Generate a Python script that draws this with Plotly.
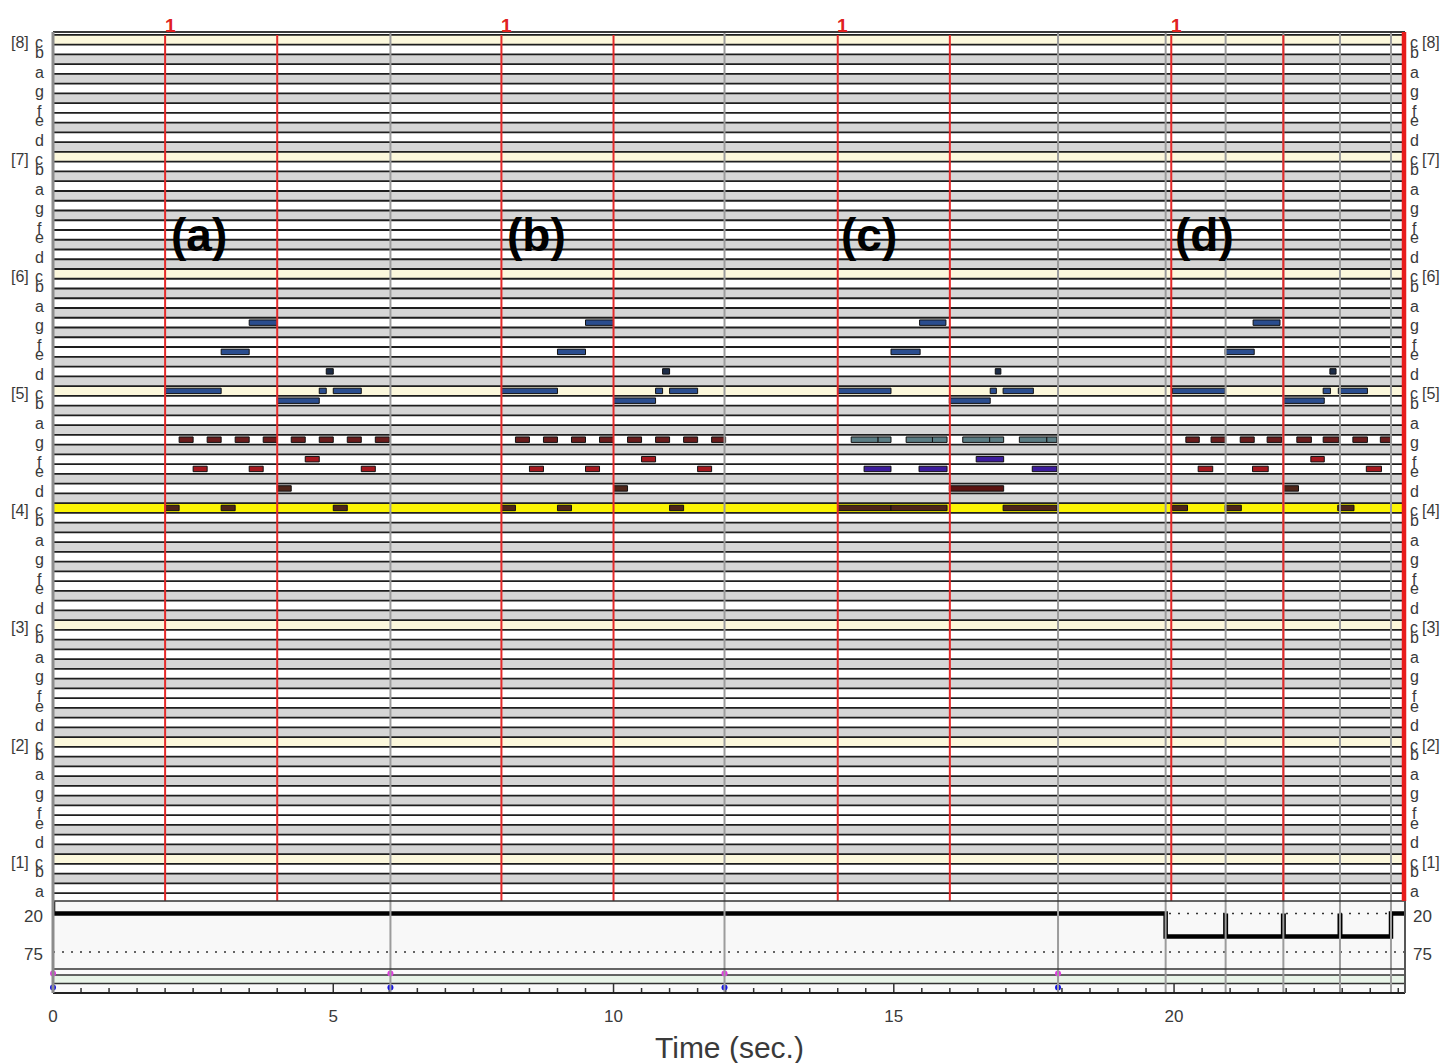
import plotly.graph_objects as go

# ---------------- data ----------------
time_max = 24.12
pitch_low, pitch_high = 21, 108          # a0 .. c8

tick_vals = [0, 5, 10, 15, 20]
tick_text = ["0", "5", "10", "15", "20"]

measure_line_t = [2.0, 4.0, 8.0, 10.0, 14.0, 16.0, 19.95, 21.95]
measure_label_t = [2.0, 8.0, 14.0, 19.95]
measure_label_text = ["1", "1", "1", "1"]
beat_line_t = [6.02, 11.98, 17.93, 19.85, 20.92, 21.95, 22.96, 23.87]
marker_t = [0.0, 6.02, 11.98, 17.93]

panel_text = ["(a)", "(b)", "(c)", "(d)"]
panel_t = [2.61, 8.63, 14.56, 20.55]
panel_pitch = 88

tempo_t = [0.0, 0.0, 19.85, 19.85, 23.87, 23.87, 24.12]
tempo_v = [0, 20, 20, 53, 53, 20, 20]
tempo_beat_t = [20.92, 21.95, 22.96]
tempo_beat_low, tempo_beat_high = 53, 20
tempo_ref_vals = [20, 75]

# notes: B=blue, K=dark, G=g-line dark red, R=red, N=brown,
#        T=teal, P=purple, M=maroon
a_pitch = [72, 76, 79, 71, 72, 74, 72,
           67, 67, 67, 67, 67, 67, 67, 67,
           65, 64, 64, 64, 62, 60, 60, 60]
a_start = [2.0, 3.0, 3.5, 4.0, 4.75, 4.875, 5.0,
           2.25, 2.75, 3.25, 3.75, 4.25, 4.75, 5.25, 5.75,
           4.5, 2.5, 3.5, 5.5, 4.0, 2.0, 3.0, 5.0]
a_end = [3.0, 3.5, 4.0, 4.75, 4.875, 5.0, 5.5,
         2.5, 3.0, 3.5, 4.0, 4.5, 5.0, 5.5, 6.0,
         4.75, 2.75, 3.75, 5.75, 4.25, 2.25, 3.25, 5.25]
a_kind = ["B", "B", "B", "B", "B", "K", "B",
          "G", "G", "G", "G", "G", "G", "G", "G",
          "R", "R", "R", "R", "N", "N", "N", "N"]

b_pitch = [72, 76, 79, 71, 72, 74, 72,
           67, 67, 67, 67, 67, 67, 67, 67,
           65, 64, 64, 64, 62, 60, 60, 60]
b_start = [8.0, 9.0, 9.5, 10.0, 10.75, 10.875, 11.0,
           8.25, 8.75, 9.25, 9.75, 10.25, 10.75, 11.25, 11.75,
           10.5, 8.5, 9.5, 11.5, 10.0, 8.0, 9.0, 11.0]
b_end = [9.0, 9.5, 10.0, 10.75, 10.875, 11.0, 11.5,
         8.5, 9.0, 9.5, 10.0, 10.5, 11.0, 11.5, 12.0,
         10.75, 8.75, 9.75, 11.75, 10.25, 8.25, 9.25, 11.25]
b_kind = ["B", "B", "B", "B", "B", "K", "B",
          "G", "G", "G", "G", "G", "G", "G", "G",
          "R", "R", "R", "R", "N", "N", "N", "N"]

c_pitch = [72, 76, 79, 71, 72, 74, 72,
           67, 67, 67, 67, 67, 67, 67, 67,
           65, 64, 64, 64, 62, 60, 60, 60]
c_start = [14.0, 14.95, 15.46, 15.99, 16.72, 16.81, 16.95,
           14.24, 14.72, 15.22, 15.69, 16.23, 16.71, 17.24, 17.73,
           16.47, 14.47, 15.45, 17.47, 15.99, 14.0, 14.95, 16.95]
c_end = [14.95, 15.47, 15.93, 16.72, 16.83, 16.91, 17.49,
         14.72, 14.95, 15.69, 15.95, 16.71, 16.96, 17.73, 17.91,
         16.96, 14.95, 15.95, 17.91, 16.96, 14.95, 15.95, 17.91]
c_kind = ["B", "B", "B", "B", "B", "K", "B",
          "T", "T", "T", "T", "T", "T", "T", "T",
          "P", "P", "P", "P", "M", "N", "N", "N"]

d_pitch = [72, 76, 79, 71, 72, 74, 72,
           67, 67, 67, 67, 67, 67, 67, 67,
           65, 64, 64, 64, 62, 60, 60, 60]
d_start = [19.97, 20.91, 21.41, 21.96, 22.66, 22.78, 22.93,
           20.21, 20.66, 21.18, 21.66, 22.19, 22.66, 23.19, 23.68,
           22.44, 20.43, 21.40, 23.43, 21.96, 19.97, 20.91, 22.92]
d_end = [20.91, 21.43, 21.89, 22.68, 22.79, 22.89, 23.45,
         20.45, 20.92, 21.43, 21.92, 22.45, 22.94, 23.45, 23.87,
         22.68, 20.69, 21.68, 23.70, 22.22, 20.24, 21.20, 23.21]
d_kind = ["B", "B", "B", "B", "B", "K", "B",
          "G", "G", "G", "G", "G", "G", "G", "G",
          "R", "R", "R", "R", "N", "N", "N", "N"]

# ---------------- style ----------------
W, H = 1447, 1063
PLOT_LEFT, PLOT_RIGHT, PLOT_TOP, PLOT_BOTTOM = 53, 1405, 32, 993   # page pixels
ML, MT = PLOT_LEFT, PLOT_TOP
MR, MB = W - PLOT_RIGHT, H - PLOT_BOTTOM
PLOT_H = PLOT_BOTTOM - PLOT_TOP
PLOT_W = PLOT_RIGHT - PLOT_LEFT


def paper_y(pix):
    return (PLOT_BOTTOM - pix) / PLOT_H


PIANO_BOTTOM_PX = 901
TEMPO_BOTTOM_PX = 969
piano_range = [19.7, 108.8]
tempo_range = [99.3, 2.14]
track_range = [0, 24]
track_line1, track_line2 = 18, 9.5
magenta_y, blue_y = 19.5, 5.5

FONT = "Arial, Liberation Sans, Helvetica, sans-serif"
TXT = "#3a3a3a"
kind_color = {"B": "#2a4d8f", "K": "#1c2c48", "G": "#6a1c1c", "R": "#a5181f",
              "N": "#4e2418", "T": "#5b7d84", "P": "#3d1c9c", "M": "#5a1210"}
letter_names = {0: "c", 2: "d", 4: "e", 5: "f", 7: "g", 9: "a", 11: "b"}
black_keys = {1, 3, 6, 8, 10}

fig = go.Figure()

# ---- piano-roll rows ----
row_pitches = list(range(pitch_low, pitch_high + 1))
row_colors = []
for p in row_pitches:
    pc = p % 12
    if p == 60:
        row_colors.append("#fbf404")
    elif pc == 0:
        row_colors.append("#fcf8dc")
    elif pc in black_keys:
        row_colors.append("#d6d6d6")
    else:
        row_colors.append("#ffffff")
fig.add_trace(go.Bar(orientation="h", y=row_pitches, x=[time_max] * len(row_pitches),
                     base=0, width=1.0, marker=dict(color=row_colors, line=dict(width=0)),
                     xaxis="x", yaxis="y", showlegend=False, hoverinfo="skip"))

# ---- notes ----
all_pitch = a_pitch + b_pitch + c_pitch + d_pitch
all_start = a_start + b_start + c_start + d_start
all_end = a_end + b_end + c_end + d_end
all_kind = a_kind + b_kind + c_kind + d_kind
for k, col in kind_color.items():
    idx = [i for i, kk in enumerate(all_kind) if kk == k]
    if not idx:
        continue
    fig.add_trace(go.Bar(orientation="h",
                         y=[all_pitch[i] for i in idx],
                         x=[all_end[i] - all_start[i] for i in idx],
                         base=[all_start[i] for i in idx],
                         width=0.56,
                         marker=dict(color=col, line=dict(color="#111111", width=1)),
                         xaxis="x", yaxis="y", showlegend=False, hoverinfo="skip"))

# ---- row separators ----
sx, sy = [], []
for p in range(pitch_low - 1, pitch_high + 1):
    sx += [0, time_max, None]
    sy += [p + 0.5, p + 0.5, None]
fig.add_trace(go.Scatter(x=sx, y=sy, mode="lines", line=dict(color="#1e1e1e", width=1.8),
                         xaxis="x", yaxis="y", showlegend=False, hoverinfo="skip"))

# ---- tempo area ----
for v in tempo_ref_vals:
    fig.add_trace(go.Scatter(x=[0, time_max], y=[v, v], mode="lines",
                             line=dict(color="#333333", width=1.6, dash="2px,7px"),
                             xaxis="x", yaxis="y2", showlegend=False, hoverinfo="skip"))
fig.add_trace(go.Scatter(x=tempo_t, y=tempo_v, mode="lines",
                         line=dict(color="#000000", width=4.5),
                         xaxis="x", yaxis="y2", showlegend=False, hoverinfo="skip"))
bx, by = [], []
for t in tempo_beat_t:
    bx += [t, t, None]
    by += [tempo_beat_low, tempo_beat_high, None]
fig.add_trace(go.Scatter(x=bx, y=by, mode="lines", line=dict(color="#000000", width=5),
                         xaxis="x", yaxis="y2", showlegend=False, hoverinfo="skip"))

# ---- bottom tracks ----
for yv in (track_line1, track_line2):
    fig.add_trace(go.Scatter(x=[0, time_max], y=[yv, yv], mode="lines",
                             line=dict(color="#333333", width=1.5), xaxis="x", yaxis="y3",
                             showlegend=False, hoverinfo="skip"))
tx, ty = [], []
n_ticks = int(round(time_max * 2))
for i in range(n_ticks + 1):
    t = i * 0.5
    if t > time_max:
        break
    tx += [t, t, None]
    ty += [0, track_line2 if (i % 10 == 0) else 5, None]
fig.add_trace(go.Scatter(x=tx, y=ty, mode="lines", line=dict(color="#333333", width=1.5),
                         xaxis="x", yaxis="y3", showlegend=False, hoverinfo="skip"))
fig.add_trace(go.Scatter(x=marker_t, y=[magenta_y] * len(marker_t), mode="markers",
                         marker=dict(color="#e03ce0", size=6), cliponaxis=False,
                         xaxis="x", yaxis="y3", showlegend=False, hoverinfo="skip"))
fig.add_trace(go.Scatter(x=marker_t, y=[blue_y] * len(marker_t), mode="markers",
                         marker=dict(color="#1414e0", size=6), cliponaxis=False,
                         xaxis="x", yaxis="y3", showlegend=False, hoverinfo="skip"))

# ---- shapes: backgrounds, borders, vertical lines ----
shapes = []
shapes.append(dict(type="rect", xref="x", yref="y2", x0=0, x1=time_max,
                   y0=tempo_range[1], y1=tempo_range[0], fillcolor="#f8f8f8",
                   line=dict(width=0), layer="below"))
shapes.append(dict(type="rect", xref="x", yref="y3", x0=0, x1=time_max,
                   y0=track_line1, y1=track_range[1], fillcolor="#fbfbfb",
                   line=dict(width=0), layer="below"))
shapes.append(dict(type="rect", xref="x", yref="y3", x0=0, x1=time_max,
                   y0=track_line2, y1=track_line1, fillcolor="#e8f4e8",
                   line=dict(width=0), layer="below"))
shapes.append(dict(type="rect", xref="x", yref="y3", x0=0, x1=time_max,
                   y0=0, y1=track_line2, fillcolor="#fafafa",
                   line=dict(width=0), layer="below"))
for t in beat_line_t:
    shapes.append(dict(type="line", xref="x", yref="paper", x0=t, x1=t, y0=0, y1=1,
                       line=dict(color="#9c9c9c", width=2), layer="above"))
yp0 = paper_y(PIANO_BOTTOM_PX)
yp1 = paper_y(35)
for t in measure_line_t:
    shapes.append(dict(type="line", xref="x", yref="paper", x0=t, x1=t, y0=yp0, y1=yp1,
                       line=dict(color="#e42a2a", width=2), layer="above"))
# borders
shapes.append(dict(type="line", xref="paper", yref="paper", x0=0, x1=1, y0=1, y1=1,
                   line=dict(color="#3a3a3a", width=2), layer="above"))
shapes.append(dict(type="line", xref="paper", yref="paper", x0=0, x1=1, y0=yp0, y1=yp0,
                   line=dict(color="#333333", width=1.6), layer="above"))
ytb = paper_y(TEMPO_BOTTOM_PX)
shapes.append(dict(type="line", xref="paper", yref="paper", x0=0, x1=1, y0=ytb, y1=ytb,
                   line=dict(color="#333333", width=1.6), layer="above"))
shapes.append(dict(type="line", xref="paper", yref="paper", x0=0, x1=1, y0=0, y1=0,
                   line=dict(color="#222222", width=2), layer="above"))
shapes.append(dict(type="line", xref="paper", yref="paper", x0=0, x1=0, y0=0, y1=1,
                   line=dict(color="#8c8c8c", width=3), layer="above"))
shapes.append(dict(type="line", xref="paper", yref="paper", x0=1, x1=1, y0=0, y1=yp0,
                   line=dict(color="#555555", width=2), layer="above"))
shapes.append(dict(type="line", xref="paper", yref="paper", x0=1 - 1.0 / PLOT_W,
                   x1=1 - 1.0 / PLOT_W, y0=yp0, y1=1,
                   line=dict(color="#e81c1c", width=4.5), layer="above"))
fig.update_layout(shapes=shapes)

# ---- annotations ----
ann = []
for p in range(pitch_low, pitch_high + 1):
    pc = p % 12
    if pc not in letter_names:
        continue
    name = letter_names[pc]
    for side, xs in [(0, -14), (1, 9)]:
        ann.append(dict(xref="paper", yref="y", x=side, y=p, text=name, showarrow=False,
                        xanchor="center", yanchor="middle", xshift=xs, yshift=-3,
                        font=dict(family=FONT, size=16, color=TXT)))
    if pc == 0:
        octave = p // 12 - 1
        for side, xs in [(0, -33), (1, 26)]:
            ann.append(dict(xref="paper", yref="y", x=side, y=p, text="[%d]" % octave,
                            showarrow=False, xanchor="center", yanchor="middle",
                            xshift=xs, yshift=-3,
                            font=dict(family=FONT, size=16, color=TXT)))
for v in tempo_ref_vals:
    for side, xs in [(0, -20), (1, 17)]:
        ann.append(dict(xref="paper", yref="y2", x=side, y=v, text=str(v), showarrow=False,
                        xanchor="center", yanchor="middle", xshift=xs, yshift=-3,
                        font=dict(family=FONT, size=17, color=TXT)))
for t, s in zip(panel_t, panel_text):
    ann.append(dict(xref="x", yref="y", x=t, y=panel_pitch, text="<b>%s</b>" % s,
                    showarrow=False, xanchor="center", yanchor="middle",
                    font=dict(family=FONT, size=46, color="#000000")))
for t, s in zip(measure_label_t, measure_label_text):
    ann.append(dict(xref="x", yref="paper", x=t, y=1 + 7.0 / PLOT_H, text="<b>%s</b>" % s,
                    showarrow=False, xanchor="center", yanchor="middle", xshift=5,
                    font=dict(family=FONT, size=19, color="#e02020")))
ann.append(dict(xref="paper", yref="paper", x=0.5, y=paper_y(1047), text="Time (sec.)",
                showarrow=False, xanchor="center", yanchor="middle",
                font=dict(family=FONT, size=30, color=TXT)))

fig.update_layout(
    width=W, height=H,
    margin=dict(l=ML, r=MR, t=MT, b=MB),
    paper_bgcolor="#ffffff", plot_bgcolor="#ffffff",
    barmode="overlay", showlegend=False, hovermode=False,
    annotations=ann,
    xaxis=dict(domain=[0, 1], range=[0, time_max], anchor="y3", showgrid=False,
               zeroline=False, showline=False, tickvals=tick_vals, ticktext=tick_text,
               ticks="outside", ticklen=8, tickcolor="rgba(0,0,0,0)",
               tickfont=dict(family=FONT, size=17, color=TXT), fixedrange=True),
    yaxis=dict(domain=[paper_y(PIANO_BOTTOM_PX), 1], range=piano_range, showgrid=False,
               zeroline=False, showticklabels=False, showline=False, fixedrange=True),
    yaxis2=dict(domain=[paper_y(TEMPO_BOTTOM_PX), paper_y(PIANO_BOTTOM_PX)],
                range=tempo_range, showgrid=False, zeroline=False, showticklabels=False,
                showline=False, fixedrange=True),
    yaxis3=dict(domain=[0, paper_y(TEMPO_BOTTOM_PX)], range=track_range, showgrid=False,
                zeroline=False, showticklabels=False, showline=False, fixedrange=True),
)

fig.write_html("out.html",
               config={"displayModeBar": False},
               post_script="document.body.style.margin='0';"
                           "document.body.style.overflow='hidden';")
